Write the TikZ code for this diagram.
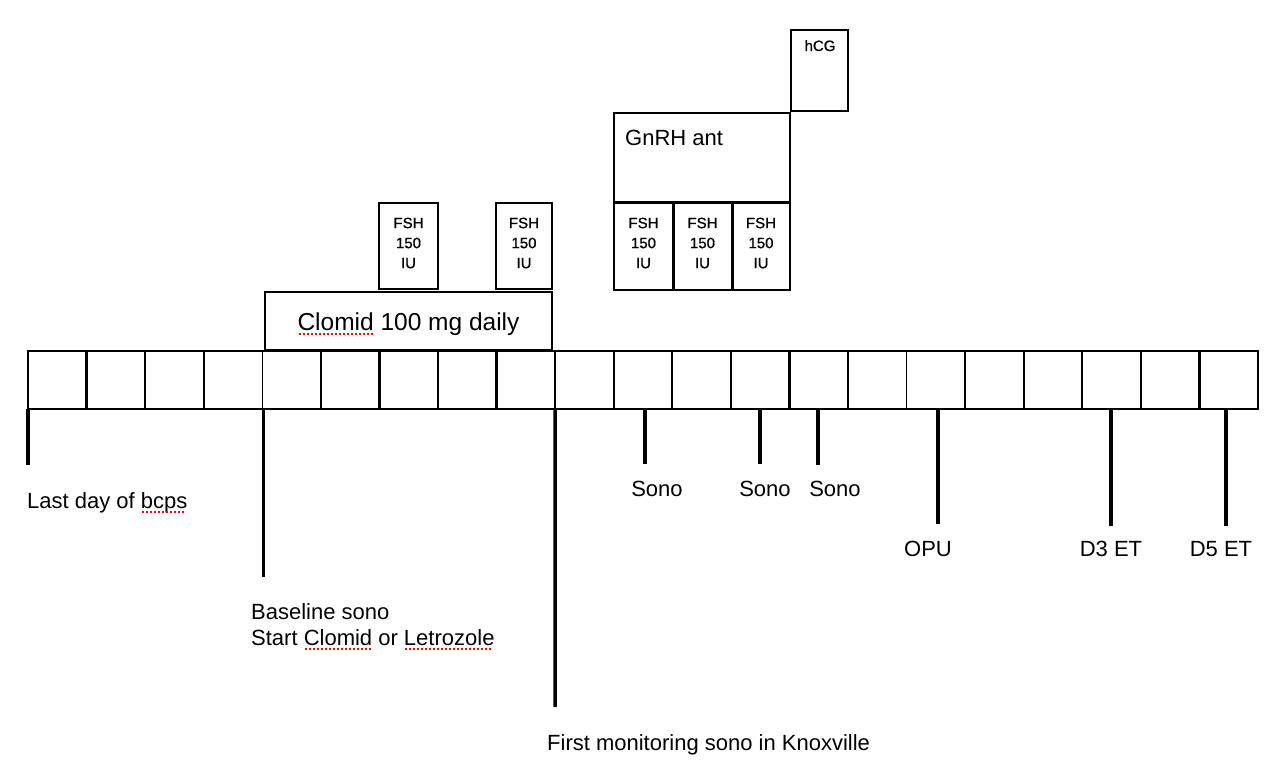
\documentclass[tikz,border=0pt]{standalone}
\usepackage{fontspec}
\setmainfont{Liberation Sans}
\newfontfamily\smallbold[FakeBold=0.8]{Liberation Sans}
\newcommand{\redsq}[1]{\setbox0\hbox{#1}\rlap{\copy0}\raisebox{-4.8pt}[0pt][0pt]{\color{red}\hbox to \wd0{\leaders\hbox to 4pt{\hss\rule{2pt}{1.6pt}\hss}\hfill}}}
\tikzset{
  cell/.style={draw=black, line width=1.3pt, minimum width=58.571pt, minimum height=58pt, inner sep=0pt, outer sep=0pt},
  divider/.style={line width=2.3pt},
  tick/.style={line width=3.5pt},
  box/.style={draw=black, line width=1.5pt, inner sep=0pt, outer sep=0pt},
  lbl/.style={font=\fontsize{22}{26}\selectfont, inner sep=0pt},
  fsh/.style={font=\smallbold\fontsize{15}{20}\selectfont, align=center, inner sep=0pt, anchor=north},
}
\begin{document}
\begin{tikzpicture}[x=1pt,y=-1pt]
\useasboundingbox (0,0) rectangle (1288,771);
\fill[white] (0,0) rectangle (1288,771);
% timeline cells
\foreach \i in {0,...,20}{
  \node[cell] (c\i) at ({28+58.571*(\i+0.5)},380) {};
}
\foreach \i in {0,1,2,3,5,6,7,8,9,10,11,12,13,14,16,17,18,19,20}{
  \draw[divider] (c\i.north west) -- (c\i.south west);
}
\draw[divider] (c20.north east) -- (c20.south east);
% boxes above
\node[box, minimum width=287pt, minimum height=58pt] (clomid) at (408.5,321) {};
\node[font=\fontsize{24.5}{28}\selectfont, inner sep=0pt, anchor=base] (clomidt) at (408.5,330) {\redsq{Clomid} 100 mg daily};
\node[box, minimum width=59pt, minimum height=86pt] (f1) at (408.5,246) {};
\node[fsh] (f1t) at (408.5,217.5) {FSH\\150\\IU};
\node[box, minimum width=56pt, minimum height=86pt] (f2) at (524,246) {};
\node[fsh] (f2t) at (524,217.5) {FSH\\150\\IU};
\node[box, minimum width=176pt, minimum height=89pt] (gnrh) at (702,157.5) {};
\node[font=\fontsize{22}{26}\selectfont, inner sep=0pt, anchor=base west] (gnrht) at (625,145) {GnRH ant};
\node[box, minimum width=59pt, minimum height=88pt] (f3) at (643.5,246) {};
\node[box, minimum width=59pt, minimum height=88pt] (f4) at (702.5,246) {};
\node[box, minimum width=58pt, minimum height=88pt] (f5) at (761,246) {};
\draw[divider, line width=3pt] (f3.north west) -- (f5.north east);
\draw[divider, line width=3pt] (f4.north west) -- (f4.south west);
\draw[divider, line width=3pt] (f5.north west) -- (f5.south west);
\node[fsh] (f3t) at (643.5,217.5) {FSH\\150\\IU};
\node[fsh] (f4t) at (702.5,217.5) {FSH\\150\\IU};
\node[fsh] (f5t) at (761,217.5) {FSH\\150\\IU};
\node[box, minimum width=57pt, minimum height=81pt] (hcg) at (819.5,70.5) {};
\node[font=\smallbold\fontsize{15}{18}\selectfont, inner sep=0pt, anchor=base] (hcgt) at (820,51) {hCG};
% ticks
\coordinate (b0) at (28,465);
\coordinate (t4) at (263.6,409); \coordinate (b4) at (263.6,577);
\coordinate (b9) at (555.1,707);
\draw[tick] (c0.south west) -- (b0);
\draw[tick] (t4) -- (b4);
\draw[tick] (c9.south west) -- (b9);
\coordinate (s1a) at (645,409); \coordinate (s1b) at (645,464);
\coordinate (s2a) at (760,409); \coordinate (s2b) at (760,464);
\coordinate (s3a) at (818,409); \coordinate (s3b) at (818,465);
\coordinate (oa) at (938,409); \coordinate (ob) at (938,524);
\coordinate (d3a) at (1111,409); \coordinate (d3b) at (1111,526);
\coordinate (d5a) at (1226,409); \coordinate (d5b) at (1226,526);
\foreach \a/\b in {s1a/s1b,s2a/s2b,s3a/s3b,oa/ob,d3a/d3b,d5a/d5b}{
  \draw[tick] (\a) -- (\b);
}
% labels
\node[lbl, anchor=base west] (l0) at (27,508) {Last day of \redsq{bcps}};
\node[lbl, anchor=base west] (l1) at (251,619) {Baseline sono};
\node[lbl, anchor=base west] (l2) at (251,645) {Start \redsq{Clomid} or \redsq{Letrozole}};
\node[lbl, anchor=base west] (l3) at (547,750) {First monitoring sono in Knoxville};
\node[lbl, anchor=base] (s1) at (657,496) {Sono};
\node[lbl, anchor=base] (s2) at (765,496) {Sono};
\node[lbl, anchor=base] (s3) at (835,496) {Sono};
\node[lbl, anchor=base] (opu) at (928,556) {OPU};
\node[lbl, anchor=base] (d3) at (1111,556) {D3 ET};
\node[lbl, anchor=base] (d5) at (1221,556) {D5 ET};
\end{tikzpicture}
\end{document}
